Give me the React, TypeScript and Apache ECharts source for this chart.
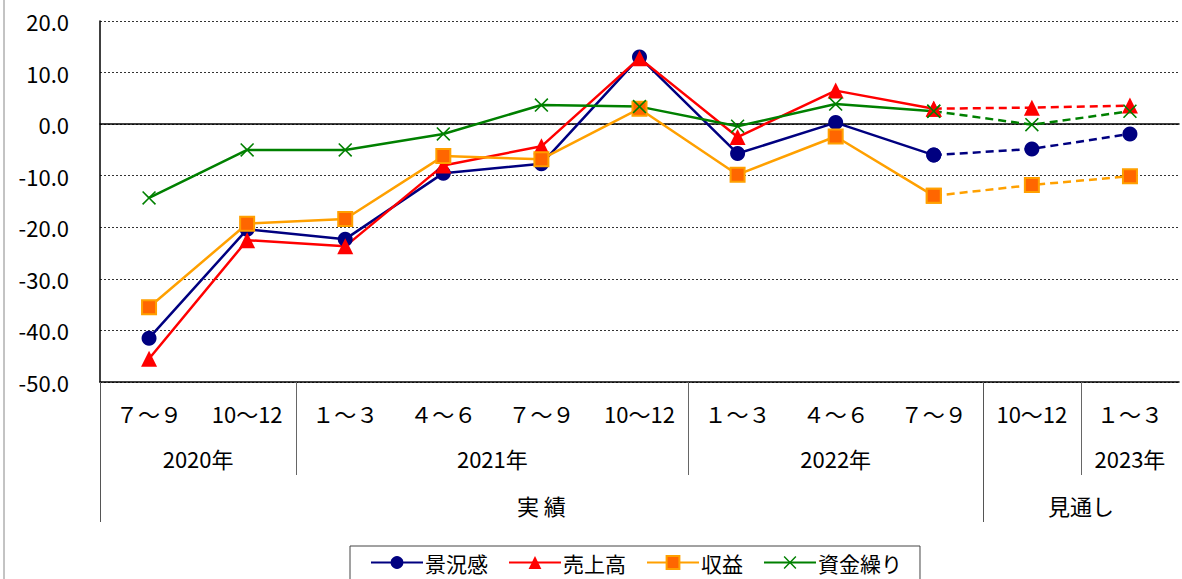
import { useEffect, useRef } from 'react'
import * as echarts from 'echarts'

const quarters = ['７～９', '10～12', '１～３', '４～６', '７～９', '10～12', '１～３', '４～６', '７～９', '10～12', '１～３']

// groups on the 2nd / 3rd label rows, as category index ranges
const yearGroups = [
  { name: '2020年', from: 0, to: 1 },
  { name: '2021年', from: 2, to: 5 },
  { name: '2022年', from: 6, to: 8 },
  { name: '', from: 9, to: 9 },
  { name: '2023年', from: 10, to: 10 },
]
const phaseGroups = [
  { name: '実 績', from: 0, to: 8 },
  { name: '見通し', from: 9, to: 10 },
]

const lastActual = 8

const keikyo = [-41.5, -20.4, -22.3, -9.5, -7.7, 13.0, -5.7, 0.3, -6.0, -4.8, -1.9]
const uriage = [-45.5, -22.5, -23.7, -8.0, -4.3, 12.8, -2.5, 6.5, 3.0, 3.2, 3.6]
const shueki = [-35.5, -19.3, -18.4, -6.2, -6.8, 3.0, -9.8, -2.4, -13.9, -11.8, -10.1]
const shikin = [-14.3, -5.0, -5.0, -1.9, 3.7, 3.4, -0.4, 3.9, 2.5, -0.1, 2.5]

const FONT = "'Noto Sans CJK JP', sans-serif"
const CROSS = 'path://M0,1.6L1.6,0L10,8.4L18.4,0L20,1.6L11.6,10L20,18.4L18.4,20L10,11.6L1.6,20L0,18.4L8.4,10Z'

// half-step axis: position 2k+1 is centre of category k, 2k is its left edge
function halfRow(groups: { name: string; from: number; to: number }[]) {
  const labels: string[] = new Array(quarters.length * 2 + 1).fill('')
  const bounds: number[] = []
  groups.forEach((g) => {
    labels[g.from + g.to + 1] = g.name
    bounds.push(g.from * 2)
  })
  return { labels, bounds }
}

export default function App() {
  const chartRef = useRef<HTMLDivElement>(null)

  useEffect(() => {
    if (!chartRef.current) return
    document.body.style.margin = '0'
    const chart = echarts.init(chartRef.current, null, { renderer: 'svg' })

    const yearRow = halfRow(yearGroups)
    const phaseRow = halfRow(phaseGroups)

    const metrics = [
      { name: '景況感', data: keikyo, color: '#000080', symbol: 'circle', size: 15, item: { color: '#000080' } },
      { name: '売上高', data: uriage, color: '#ff0000', symbol: 'triangle', size: 16, item: { color: '#ff0000' } },
      { name: '収益', data: shueki, color: '#ffa000', symbol: 'rect', size: 14, item: { color: '#ff6600', borderColor: '#ffa000', borderWidth: 2 } },
      { name: '資金繰り', data: shikin, color: '#008000', symbol: CROSS, size: 14, item: { color: '#008000' } },
    ]

    const series: any[] = []
    metrics.forEach((m) => {
      series.push({
        name: m.name,
        type: 'line',
        data: m.data.map((v, i) => (i <= lastActual ? v : '-')),
        symbol: m.symbol,
        symbolSize: m.size,
        showAllSymbol: true,
        lineStyle: { color: m.color, width: 2.5 },
        itemStyle: m.item,
      })
    })
    metrics.forEach((m) => {
      series.push({
        name: m.name,
        type: 'line',
        data: m.data.map((v, i) => (i >= lastActual ? v : '-')),
        symbol: m.symbol,
        symbolSize: m.size,
        showAllSymbol: true,
        lineStyle: { color: m.color, width: 2.5, type: [8, 5] },
        itemStyle: m.item,
      })
    })

    chart.setOption({
      animation: false,
      textStyle: { fontFamily: FONT },
      grid: { left: 100, right: 0, top: 21, bottom: 197, containLabel: false },
      legend: {
        data: metrics.map((m) => m.name),
        left: 350,
        top: 546,
        padding: [6, 18, 12, 20],
        itemWidth: 52,
        itemHeight: 16,
        itemGap: 20,
        borderColor: '#444',
        borderWidth: 1,
        textStyle: { fontSize: 21, lineHeight: 21, color: '#000', fontFamily: FONT, padding: [0, 0, 0, -3] },
      },
      xAxis: [
        {
          type: 'category',
          data: quarters,
          position: 'bottom',
          boundaryGap: true,
          axisLine: { show: true, onZero: false, lineStyle: { color: '#000', width: 1.5 } },
          axisTick: { show: false },
          axisLabel: { interval: 0, margin: 20, fontSize: 22, color: '#000', fontFamily: FONT },
          splitLine: { show: false },
        },
        {
          type: 'category',
          data: yearRow.labels,
          position: 'bottom',
          offset: 0,
          boundaryGap: false,
          axisLine: { show: false, onZero: false },
          axisTick: {
            show: true,
            interval: (i: number) => yearRow.bounds.includes(i),
            length: 93,
            lineStyle: { color: '#666', width: 1 },
          },
          axisLabel: { interval: 0, margin: 65, fontSize: 22, color: '#000', fontFamily: FONT },
          splitLine: { show: false },
        },
        {
          type: 'category',
          data: phaseRow.labels,
          position: 'bottom',
          offset: 0,
          boundaryGap: false,
          axisLine: { show: false, onZero: false },
          axisTick: {
            show: true,
            interval: (i: number) => phaseRow.bounds.includes(i),
            length: 140,
            lineStyle: { color: '#555', width: 1 },
          },
          axisLabel: { interval: 0, margin: 112, fontSize: 22, color: '#000', fontFamily: FONT },
          splitLine: { show: false },
        },
        {
          // solid line through zero
          type: 'category',
          data: quarters,
          position: 'bottom',
          axisLine: { show: true, onZero: true, lineStyle: { color: '#000', width: 1.5 } },
          axisTick: { show: false },
          axisLabel: { show: false },
          splitLine: { show: false },
        },
      ],
      yAxis: {
        type: 'value',
        min: -50,
        max: 20,
        interval: 10,
        axisLine: { show: true, onZero: false, lineStyle: { color: '#000', width: 1.5 } },
        axisTick: { show: false },
        axisLabel: {
          margin: 31,
          fontSize: 22,
          color: '#000',
          fontFamily: FONT,
          formatter: (v: number) => v.toFixed(1),
        },
        splitLine: { show: true, lineStyle: { color: '#333', width: 1, type: [2, 2] } },
      },
      graphic: [
        {
          type: 'rect',
          shape: { x: 4, y: -5, width: 1300, height: 700 },
          style: { fill: 'none', stroke: '#888', lineWidth: 1 },
          silent: true,
        },
      ],
      series,
    })

    return () => {
      chart.dispose()
    }
  }, [])

  return <div ref={chartRef} style={{ width: '1182px', height: '579px' }}></div>
}
